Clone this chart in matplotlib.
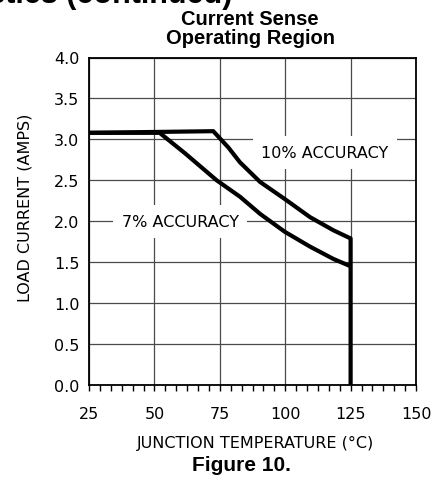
import matplotlib
matplotlib.use('Agg')
import matplotlib.pyplot as plt
from matplotlib.ticker import MultipleLocator

# ---- data ----
temp_10 = [25, 72.5, 78.3, 82.7, 90.4, 99.9, 109.5, 118.4, 125, 125]
curr_10 = [3.08, 3.10, 2.90, 2.72, 2.48, 2.27, 2.05, 1.89, 1.79, 0.0]
temp_7 = [25, 52, 61.7, 73.8, 82.7, 90.4, 99.9, 109.5, 118.4, 125]
curr_7 = [3.08, 3.08, 2.83, 2.50, 2.30, 2.09, 1.87, 1.69, 1.54, 1.45]
x_ticks = [25, 50, 75, 100, 125, 150]
y_ticks = [0.0, 0.5, 1.0, 1.5, 2.0, 2.5, 3.0, 3.5, 4.0]
y_tick_labels = ['0.0', '0.5', '1.0', '1.5', '2.0', '2.5', '3.0', '3.5', '4.0']
label_7 = '7% ACCURACY'
label_10 = '10% ACCURACY'

W, H = 436, 485
fig = plt.figure(figsize=(W / 100, H / 100), dpi=100)
L, R, T, B = 89, 416, 58.5, 386
ax = fig.add_axes([L / W, 1 - B / H, (R - L) / W, (B - T) / H])

sans = 'DejaVu Sans'
bold = 'Liberation Sans'
fs = 11.5

ax.set_xlim(25, 150)
ax.set_ylim(0, 4.0)
ax.set_xticks(x_ticks)
ax.set_yticks(y_ticks)
ax.set_yticklabels(y_tick_labels)
ax.xaxis.set_minor_locator(MultipleLocator(25 / 6))
ax.tick_params(axis='x', which='both', direction='out', length=4, width=1.0,
               pad=11, labelsize=fs, colors='black')
ax.tick_params(axis='y', which='both', length=0, pad=7, labelsize=fs)
for lab in ax.get_xticklabels() + ax.get_yticklabels():
    lab.set_family(sans)

ax.grid(True, which='major', color='#4a4a4a', linewidth=0.9, zorder=1)
ax.set_axisbelow(True)
for s in ax.spines.values():
    s.set_linewidth(1.3)
    s.set_color('black')

ax.plot(temp_10, curr_10, color='black', linewidth=3.0, solid_joinstyle='round',
        solid_capstyle='butt', zorder=4)
ax.plot(temp_7, curr_7, color='black', linewidth=3.0, solid_joinstyle='round',
        solid_capstyle='butt', zorder=4)

box = dict(boxstyle='square,pad=0.55', facecolor='white', edgecolor='none')
ax.text(59.8, 2.0, label_7, ha='center', va='center', fontsize=fs, family=sans,
        bbox=box, zorder=3)
ax.text(115.2, 2.84, label_10, ha='center', va='center', fontsize=fs, family=sans,
        bbox=box, zorder=3)

ax.set_xlabel('JUNCTION TEMPERATURE (°C)', fontsize=fs, family=sans)
ax.set_ylabel('LOAD CURRENT (AMPS)', fontsize=fs, family=sans)
ax.xaxis.set_label_coords((255 - L) / (R - L), (B - 443) / (B - T))
ax.xaxis.label.set_va('center')
ax.yaxis.set_label_coords((25 - L) / (R - L), (B - 208) / (B - T))
ax.yaxis.label.set_va('center')

fig.text(250 / W, 1 - 25 / H, 'Current Sense', ha='center', va='baseline',
         fontsize=14.5, fontweight='bold', family=bold)
fig.text(250 / W, 1 - 43.5 / H, 'Operating Region', ha='center', va='baseline',
         fontsize=14.5, fontweight='bold', family=bold)
fig.text(241 / W, 1 - 471.5 / H, 'Figure 10.', ha='center', va='baseline',
         fontsize=15, fontweight='bold', family=bold)
fig.text(232 / W, 1 - 2.5 / H, 'Typical Characteristics (continued)', ha='right',
         va='baseline', fontsize=22, fontweight='bold', family=bold)

fig.savefig('out.png', dpi=100)
